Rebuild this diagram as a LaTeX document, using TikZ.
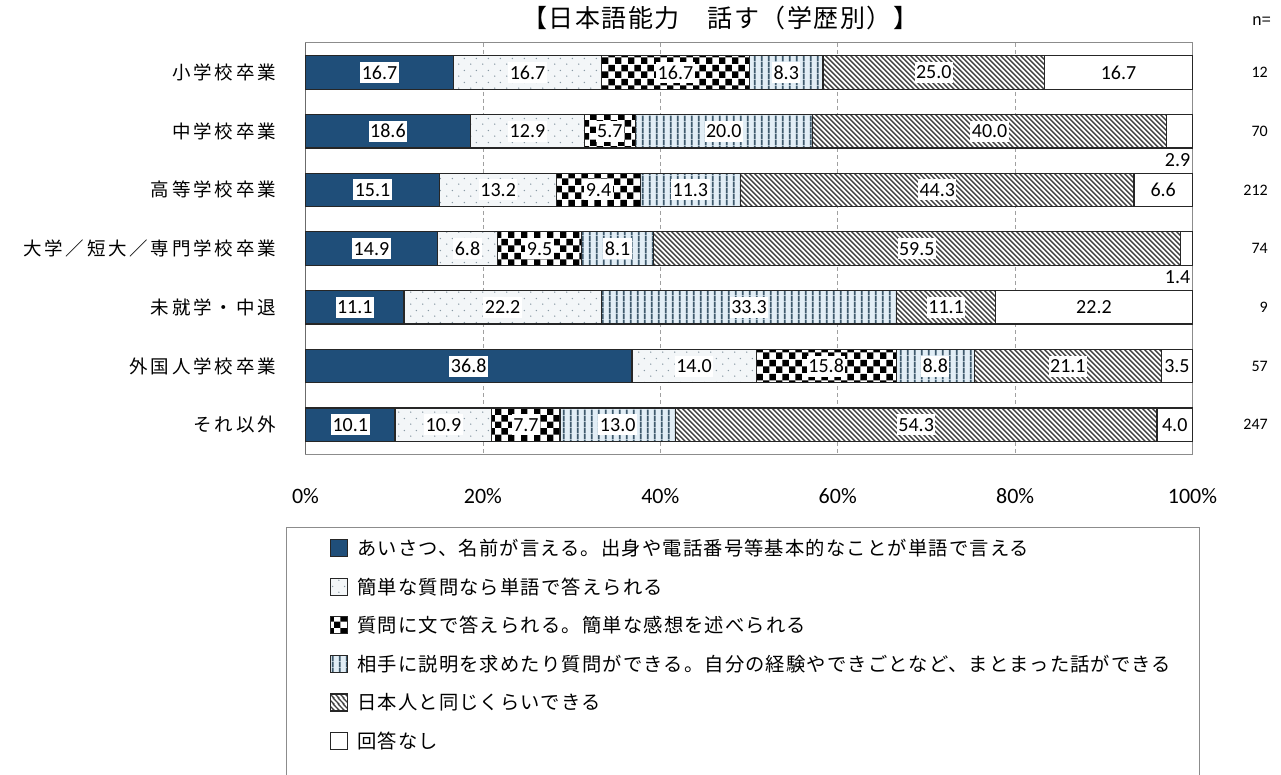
\documentclass[tikz,border=0pt]{standalone}
\usepackage{fontspec}
\setmainfont{Noto Sans CJK JP}
\newfontfamily\jpfont{Noto Sans CJK JP}
\newfontfamily\jpcat[LetterSpace=15]{Noto Sans CJK JP}
\newfontfamily\jpleg[LetterSpace=6]{Noto Sans CJK JP}
\newfontfamily\jptitle[LetterSpace=6]{Noto Sans CJK JP}
\newfontfamily\numfont{Carlito}
\usetikzlibrary{patterns.meta}

\definecolor{barblue}{HTML}{1F4E79}
\definecolor{dotbg}{HTML}{F3F6F8}
\definecolor{dotcol}{HTML}{8A9AA5}
\definecolor{stripebg}{HTML}{E2EEF6}
\definecolor{stripecol}{HTML}{3F5A6D}
\definecolor{hatchcol}{HTML}{404040}
\definecolor{barline}{HTML}{262626}
\definecolor{framecol}{HTML}{8C8C8C}
\definecolor{gridcol}{HTML}{A0A0A0}
\definecolor{axiscol}{HTML}{6B6B6B}

\tikzdeclarepattern{name=dotpat, type=uncolored,
  bottom left={(0pt,0pt)}, top right={(12pt,12pt)}, tile size={(12pt,12pt)},
  code={\fill (3pt,3pt) circle (0.8pt); \fill (9pt,9pt) circle (0.8pt);}}
\tikzdeclarepattern{name=checkpat, type=uncolored,
  bottom left={(0pt,0pt)}, top right={(13.4pt,13.4pt)}, tile size={(13.4pt,13.4pt)},
  code={\fill (0pt,0pt) rectangle (6.7pt,6.7pt); \fill (6.7pt,6.7pt) rectangle (13.4pt,13.4pt);}}
\tikzdeclarepattern{name=stripepat, type=uncolored,
  bottom left={(0pt,0pt)}, top right={(6.6pt,6pt)}, tile size={(6.6pt,6pt)},
  code={\fill (2pt,0pt) rectangle (3.8pt,6pt);}}
\tikzdeclarepattern{name=hatchpat, type=uncolored,
  bottom left={(0pt,0pt)}, top right={(5.4pt,5.4pt)}, tile size={(5.4pt,5.4pt)},
  code={\draw[line width=1.5pt] (-1pt,6.4pt) -- (6.4pt,-1pt);
        \draw[line width=1.5pt] (-1pt,1pt) -- (1pt,-1pt);
        \draw[line width=1.5pt] (4.4pt,6.4pt) -- (6.4pt,4.4pt);}}

\pgfdeclarelayer{fg}
\pgfsetlayers{main,fg}

\tikzset{
  bd/.style={draw=barline, line width=1.2pt},
  c1/.style={fill=barblue, bd},
  c2/.style={fill=dotbg, postaction={pattern=dotpat, pattern color=dotcol}, postaction={bd}},
  c3/.style={fill=white, postaction={pattern=checkpat, pattern color=black}, postaction={bd}},
  c4/.style={fill=stripebg, postaction={pattern=stripepat, pattern color=stripecol}, postaction={bd}},
  c5/.style={fill=white, postaction={pattern=hatchpat, pattern color=hatchcol}, postaction={bd}},
  c6/.style={fill=white, bd},
  vlab/.style={fill=white, inner xsep=1.5pt, inner ysep=0pt, minimum height=21pt,
    font=\numfont\fontsize{20}{22}\selectfont, text=black},
  plainlab/.style={inner sep=0pt, font=\numfont\fontsize{20}{22}\selectfont, text=black},
  catlab/.style={anchor=east, inner sep=0pt, font=\jpcat\fontsize{18.5}{20}\selectfont},
  nlab/.style={anchor=east, inner sep=0pt, font=\numfont\fontsize{16}{18}\selectfont},
  axlab/.style={inner sep=0pt, font=\numfont\fontsize{22}{24}\selectfont},
  leglab/.style={anchor=west, inner sep=0pt, font=\jpleg\fontsize{19.3}{21}\selectfont},
  grid/.style={draw=gridcol, line width=0.8pt, dash pattern=on 4pt off 3pt},
}

\newcommand\startrow[3]{\def\rowy{#1}\def\rowsum{#2}\def\curx{305.5}\def\rowid{#3}}
\newcommand\seg[4]{%
  \pgfmathsetmacro\nextx{\curx+(#1/\rowsum)*887}%
  \path[#2] (\curx,\rowy-16.75) rectangle (\nextx,\rowy+16.75);%
  \pgfmathsetmacro\midx{(\curx+\nextx)/2}%
  \ifx&#3&\else
    \begin{pgfonlayer}{fg}\node[vlab] (v\rowid-#4) at (\midx,\rowy) {#3};\end{pgfonlayer}%
  \fi
  \let\curx\nextx}

\begin{document}
\begin{tikzpicture}[x=1pt,y=1pt]
\useasboundingbox (0,0) rectangle (1281,-775);
\fill[white] (0,0) rectangle (1281,-775);

% title and n=
\node[inner sep=0pt, font=\jptitle\fontsize{25}{27}\selectfont] (title) at (720,-18) {【日本語能力　話す（学歴別）】};
\node[anchor=east, inner sep=0pt, font=\jpfont\fontsize{16}{18}\selectfont] (nhead) at (1271,-21) {n=};

% grid and frame
\foreach \k in {1,2,3,4} {
  \draw[grid] ({305.5+177.4*\k},-43) -- ({305.5+177.4*\k},-454);
}
\draw[draw=framecol, line width=1pt] (305.5,-43) rectangle (1192.5,-454);
\draw[draw=axiscol, line width=1.6pt] (305.5,-43) -- (305.5,-454);

% rows
\startrow{-72.5}{100.1}{1}
\seg{16.7}{c1}{16.7}{1}\seg{16.7}{c2}{16.7}{2}\seg{16.7}{c3}{16.7}{3}
\seg{8.3}{c4}{8.3}{4}\seg{25.0}{c5}{25.0}{5}\seg{16.7}{c6}{16.7}{6}

\startrow{-131.2}{100.1}{2}
\seg{18.6}{c1}{18.6}{1}\seg{12.9}{c2}{12.9}{2}\seg{5.7}{c3}{5.7}{3}
\seg{20.0}{c4}{20.0}{4}\seg{40.0}{c5}{40.0}{5}\seg{2.9}{c6}{}{6}

\startrow{-189.9}{99.9}{3}
\seg{15.1}{c1}{15.1}{1}\seg{13.2}{c2}{13.2}{2}\seg{9.4}{c3}{9.4}{3}
\seg{11.3}{c4}{11.3}{4}\seg{44.3}{c5}{44.3}{5}\seg{6.6}{c6}{6.6}{6}

\startrow{-248.6}{100.2}{4}
\seg{14.9}{c1}{14.9}{1}\seg{6.8}{c2}{6.8}{2}\seg{9.5}{c3}{9.5}{3}
\seg{8.1}{c4}{8.1}{4}\seg{59.5}{c5}{59.5}{5}\seg{1.4}{c6}{}{6}

\startrow{-307.3}{99.9}{5}
\seg{11.1}{c1}{11.1}{1}\seg{22.2}{c2}{22.2}{2}
\seg{33.3}{c4}{33.3}{4}\seg{11.1}{c5}{11.1}{5}\seg{22.2}{c6}{22.2}{6}

\startrow{-366.0}{100}{6}
\seg{36.8}{c1}{36.8}{1}\seg{14.0}{c2}{14.0}{2}\seg{15.8}{c3}{15.8}{3}
\seg{8.8}{c4}{8.8}{4}\seg{21.1}{c5}{21.1}{5}\seg{3.5}{c6}{3.5}{6}

\startrow{-424.7}{100}{7}
\seg{10.1}{c1}{10.1}{1}\seg{10.9}{c2}{10.9}{2}\seg{7.7}{c3}{7.7}{3}
\seg{13.0}{c4}{13.0}{4}\seg{54.3}{c5}{54.3}{5}\seg{4.0}{c6}{4.0}{6}

% small labels below bars
\node[plainlab, anchor=east] (v2-6) at (1190.5,-160) {2.9};
\node[plainlab, anchor=east] (v4-6) at (1190.5,-277.5) {1.4};

% category labels
\node[catlab] (cat1) at (276,-72.5) {小学校卒業};
\node[catlab] (cat2) at (276,-131.2) {中学校卒業};
\node[catlab] (cat3) at (276,-189.9) {高等学校卒業};
\node[catlab] (cat4) at (276,-248.6) {大学／短大／専門学校卒業};
\node[catlab] (cat5) at (276,-307.3) {未就学・中退};
\node[catlab] (cat6) at (276,-366.0) {外国人学校卒業};
\node[catlab] (cat7) at (276,-424.7) {それ以外};

% n values
\node[nlab] (n1) at (1268,-72.5) {12};
\node[nlab] (n2) at (1268,-131.2) {70};
\node[nlab] (n3) at (1268,-189.9) {212};
\node[nlab] (n4) at (1268,-248.6) {74};
\node[nlab] (n5) at (1268,-307.3) {9};
\node[nlab] (n6) at (1268,-366.0) {57};
\node[nlab] (n7) at (1268,-424.7) {247};

% axis labels
\foreach \p in {0,20,40,60,80,100} {
  \node[axlab] (ax\p) at ({305.5+8.87*\p},-496) {\p\%};
}

% legend
\draw[draw=framecol, line width=1pt] (286.5,-790) -- (286.5,-527.5) -- (1199,-527.5) -- (1199,-790);
\foreach \i/\st/\txt in {
  1/c1/あいさつ、名前が言える。出身や電話番号等基本的なことが単語で言える,
  2/c2/簡単な質問なら単語で答えられる,
  3/c3/質問に文で答えられる。簡単な感想を述べられる,
  4/c4/相手に説明を求めたり質問ができる。自分の経験やできごとなど、まとまった話ができる,
  5/c5/日本人と同じくらいできる,
  6/c6/回答なし} {
  \pgfmathsetmacro\ly{-(548+38.6*(\i-1))}
  \path[\st, line width=1pt] (330.5,\ly+8.5) rectangle (347.5,\ly-8.5);
  \node[leglab] (leg\i) at (357,\ly) {\txt};
}
\end{tikzpicture}
\end{document}
